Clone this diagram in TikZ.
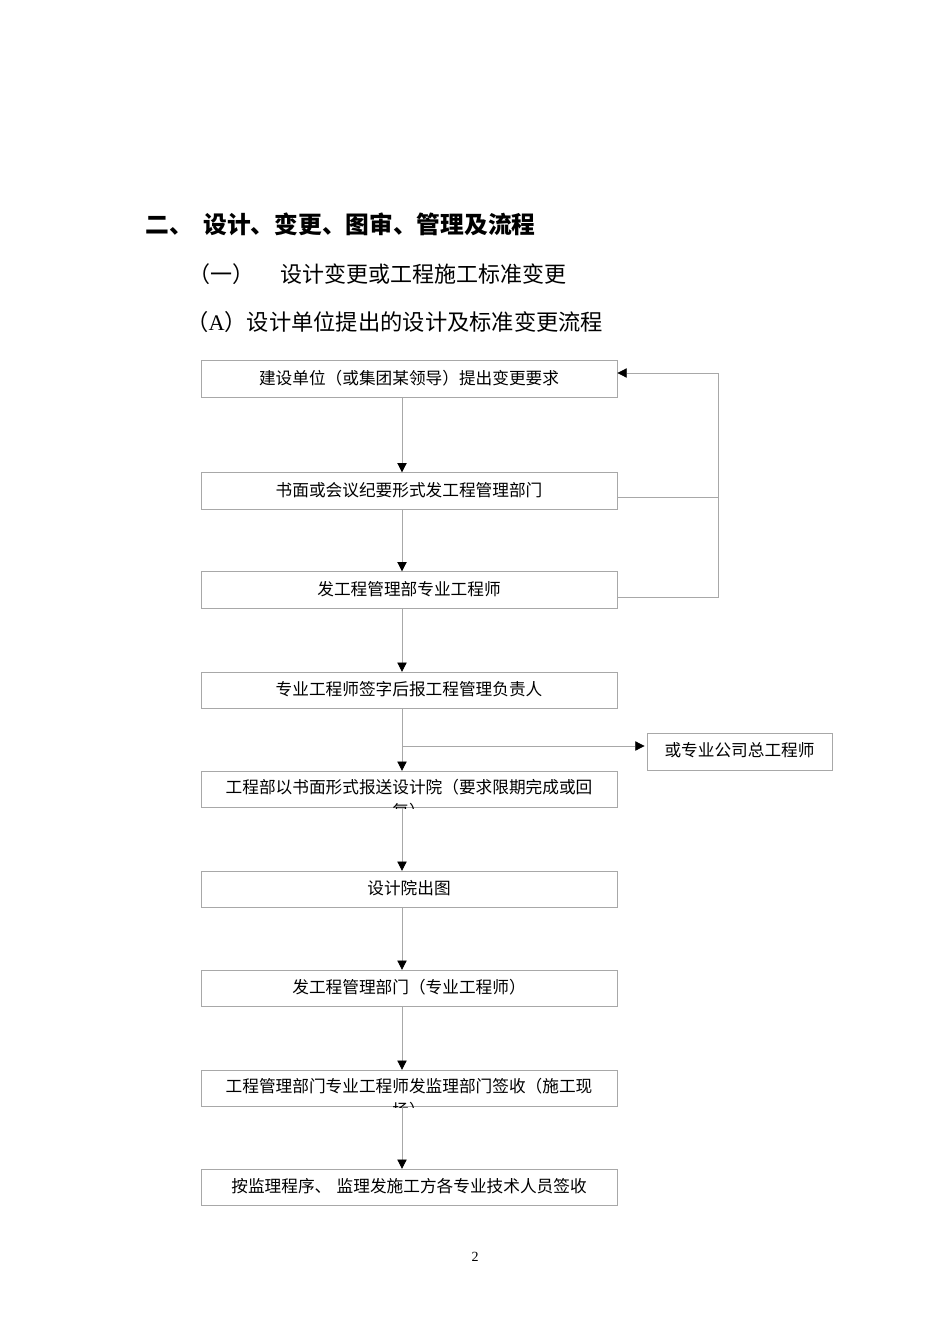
\documentclass[tikz,border=0pt]{standalone}
\usepackage{fontspec}
\setmainfont{Liberation Serif}
\newfontfamily\cjk{Noto Sans CJK SC}
\usetikzlibrary{arrows.meta,calc}
\definecolor{linegray}{HTML}{A8A8A8}
\begin{document}
\begin{tikzpicture}[x=0.75pt,y=-0.75pt,
  box/.style={draw=linegray, line width=0.6pt, minimum width=312pt, minimum height=27.4pt, inner sep=0pt,
    font=\cjk\fontsize{12.5}{15}\selectfont, text height=11pt, text depth=3.5pt},
  sidebox/.style={box, minimum width=138.75pt, minimum height=27.75pt},
  boxtext/.style={inner sep=0pt, font=\cjk\fontsize{12.5}{15}\selectfont, text height=11pt, text depth=3.5pt},
  heading/.style={anchor=west, inner sep=0pt, text height=14pt, text depth=3pt},
  line/.style={draw=linegray, line width=0.6pt},
  conn/.style={line, -{Triangle[color=black,length=7pt,width=7pt]}}]
\useasboundingbox (0,0) rectangle (950,1344);
\fill[white] (0,0) rectangle (950,1344);

% headings
\node[heading, font=\cjk\bfseries\fontsize{17.8}{20}\selectfont] (h1) at (145,226) {二、\hspace{8pt}设计、变更、图审、管理及流程};
\node[heading, font=\cjk\fontsize{16.5}{20}\selectfont] (h2) at (188,275) {（一）\hspace{20pt}设计变更或工程施工标准变更};
\node[heading, font=\cjk\fontsize{16.7}{20}\selectfont] (h3) at (186,323) {（{\rmfamily A}）设计单位提出的设计及标准变更流程};

% boxes
\node[box] (b1) at (409,379) {建设单位（或集团某领导）提出变更要求};
\node[box] (b2) at (409,491) {书面或会议纪要形式发工程管理部门};
\node[box] (b3) at (409,590) {发工程管理部专业工程师};
\node[box] (b4) at (409,690.5) {专业工程师签字后报工程管理负责人};
\node[box] (b5) at (409,789.5) {};
\node[box] (b6) at (409,889.5) {设计院出图};
\node[box] (b7) at (409,988.5) {发工程管理部门（专业工程师）};
\node[box] (b8) at (409,1088.5) {};
\node[box] (b9) at (409,1187.5) {按监理程序、\hspace{4pt}监理发施工方各专业技术人员签收};
\node[sidebox] (side) at (739.5,751.5) {或专业公司总工程师};

% clipped two-line texts
\begin{scope}
\clip (b5.south west) rectangle (b5.north east);
\node[boxtext] (t5a) at (409,788) {工程部以书面形式报送设计院（要求限期完成或回};
\node[boxtext] (t5b) at (409,812.5) {复）};
\end{scope}
\begin{scope}
\clip (b8.south west) rectangle (b8.north east);
\node[boxtext] (t8a) at (409,1087) {工程管理部门专业工程师发监理部门签收（施工现};
\node[boxtext] (t8b) at (409,1111.5) {场）};
\end{scope}

% main vertical connectors
\coordinate (vx) at (402,0);
\draw[conn] (b1.south -| vx) -- (b2.north -| vx);
\draw[conn] (b2.south -| vx) -- (b3.north -| vx);
\draw[conn] (b3.south -| vx) -- (b4.north -| vx);
\draw[conn] (b4.south -| vx) -- (b5.north -| vx);
\draw[conn] (b5.south -| vx) -- (b6.north -| vx);
\draw[conn] (b6.south -| vx) -- (b7.north -| vx);
\draw[conn] (b7.south -| vx) -- (b8.north -| vx);
\draw[conn] (b8.south -| vx) -- (b9.north -| vx);

% branch to side box
\coordinate (br) at (402,746);
\draw[conn, shorten >=1.5pt] (br) -- (br -| side.west);

% feedback loop
\draw[line] ($(b2.east)+(0,6)$) -- ($(b2.east)+(101,6)$);
\draw[conn] ($(b3.east)+(0,7)$) -- ($(b3.east)+(101,7)$) -- ($(b1.east)+(101,-6)$) -- ($(b1.east)+(0,-6)$);

% page number
\node[inner sep=0pt, font=\fontsize{10.5}{12}\selectfont] (pg) at (475,1257) {2};
\end{tikzpicture}
\end{document}
